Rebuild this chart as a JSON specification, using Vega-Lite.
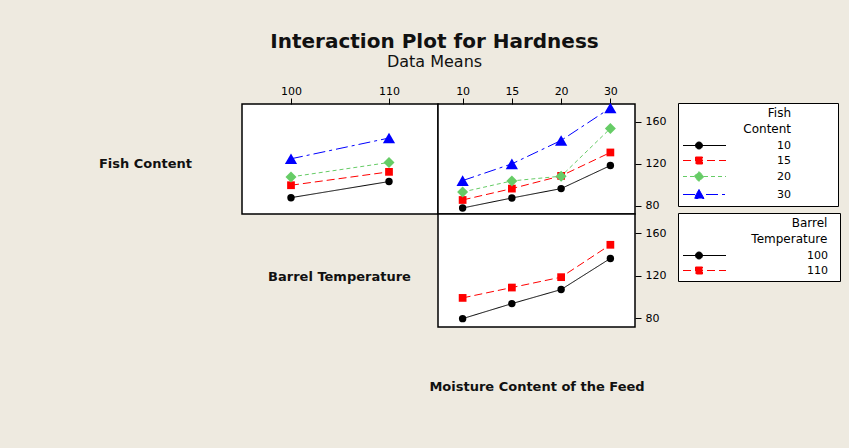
{
  "$schema": "https://vega.github.io/schema/vega-lite/v6.json",
  "background": "#EEEAE0",
  "padding": {"left": 97, "top": 32, "right": 7, "bottom": 56},
  "title": {
    "text": "Interaction Plot for Hardness",
    "subtitle": "Data Means",
    "font": "DejaVu Sans",
    "fontSize": 20,
    "fontWeight": "bold",
    "color": "#111111",
    "subtitleFont": "DejaVu Sans",
    "subtitleFontSize": 16,
    "subtitleColor": "#111111",
    "subtitlePadding": 2,
    "anchor": "middle",
    "frame": "group",
    "dx": 192.5,
    "offset": 14
  },
  "datasets": {
    "fishBarrel": [
      {"fish": "10", "barrel": "100", "hardness": 87.9},
      {"fish": "10", "barrel": "110", "hardness": 103.2},
      {"fish": "15", "barrel": "100", "hardness": 99.7},
      {"fish": "15", "barrel": "110", "hardness": 112.4},
      {"fish": "20", "barrel": "100", "hardness": 107.6},
      {"fish": "20", "barrel": "110", "hardness": 121.3},
      {"fish": "30", "barrel": "100", "hardness": 124.8},
      {"fish": "30", "barrel": "110", "hardness": 144.5}
    ],
    "fishMoist": [
      {"fish": "10", "moisture": "10", "hardness": 78.1},
      {"fish": "10", "moisture": "15", "hardness": 87.6},
      {"fish": "10", "moisture": "20", "hardness": 96.5},
      {"fish": "10", "moisture": "30", "hardness": 118.4},
      {"fish": "15", "moisture": "10", "hardness": 85.7},
      {"fish": "15", "moisture": "15", "hardness": 96.5},
      {"fish": "15", "moisture": "20", "hardness": 108.6},
      {"fish": "15", "moisture": "30", "hardness": 130.8},
      {"fish": "20", "moisture": "10", "hardness": 93.3},
      {"fish": "20", "moisture": "15", "hardness": 103.8},
      {"fish": "20", "moisture": "20", "hardness": 108.3},
      {"fish": "20", "moisture": "30", "hardness": 153.6},
      {"fish": "30", "moisture": "10", "hardness": 104.1},
      {"fish": "30", "moisture": "15", "hardness": 120.0},
      {"fish": "30", "moisture": "20", "hardness": 142.2},
      {"fish": "30", "moisture": "30", "hardness": 173.0}
    ],
    "barrelMoist": [
      {"barrel": "100", "moisture": "10", "hardness": 79.4},
      {"barrel": "100", "moisture": "15", "hardness": 93.6},
      {"barrel": "100", "moisture": "20", "hardness": 106.9},
      {"barrel": "100", "moisture": "30", "hardness": 136.3},
      {"barrel": "110", "moisture": "10", "hardness": 99.0},
      {"barrel": "110", "moisture": "15", "hardness": 108.8},
      {"barrel": "110", "moisture": "20", "hardness": 118.6},
      {"barrel": "110", "moisture": "30", "hardness": 149.2}
    ]
  },
  "config": {
    "font": "DejaVu Sans",
    "view": {"stroke": "black", "strokeWidth": 1.5, "fill": "white"},
    "axis": {
      "labelFont": "DejaVu Sans",
      "labelFontSize": 11,
      "labelColor": "black",
      "tickColor": "black",
      "tickSize": 6,
      "tickWidth": 1,
      "domain": false,
      "grid": false,
      "labelOverlap": false,
      "titleFont": "DejaVu Sans",
      "titleFontSize": 13,
      "titleFontWeight": "bold",
      "titleColor": "#111111"
    },
    "legend": {
      "labelFont": "DejaVu Sans",
      "labelFontSize": 11,
      "labelColor": "black",
      "labelAlign": "right",
      "titleFont": "DejaVu Sans",
      "titleFontSize": 12,
      "titleFontWeight": "normal",
      "titleColor": "black",
      "titleAnchor": "end",
      "titleAlign": "right",
      "titleLineHeight": 16,
      "titlePadding": 4,
      "fillColor": "white",
      "strokeColor": "black",
      "padding": 5,
      "symbolSize": 100,
      "symbolStrokeWidth": 1,
      "symbolOpacity": 1,
      "rowPadding": 3
    }
  },
  "spacing": 0,
  "bounds": "flush",
  "resolve": {
    "scale": {"x": "independent", "y": "independent", "color": "independent", "strokeDash": "independent"},
    "legend": {"color": "independent", "strokeDash": "independent"}
  },
  "hconcat": [
    {
      "width": 196,
      "height": 110,
      "data": {"name": "fishBarrel"},
      "encoding": {
        "x": {"field": "barrel", "type": "ordinal", "axis": {"orient": "top", "title": null, "labelAngle": 0, "labelPadding": 2}},
        "y": {
          "field": "hardness", "type": "quantitative",
          "scale": {"domain": [72.4, 176.8], "nice": false, "zero": false},
          "axis": {"orient": "left", "labels": false, "ticks": false, "title": "Fish Content", "titleAngle": 0, "titleAlign": "center", "titleBaseline": "middle", "titleX": -97, "titleY": 59}
        },
        "color": {"field": "fish", "type": "nominal", "scale": {"domain": ["10", "15", "20", "30"], "range": ["#000000", "#FF0000", "#66CC66", "#0000FF"]}, "legend": null}
      },
      "layer": [
        {
          "mark": {"type": "line", "strokeWidth": 1},
          "encoding": {
            "strokeDash": {"field": "fish", "type": "nominal", "scale": {"domain": ["10", "15", "20", "30"], "range": [[1, 0], [8, 4], [4, 3], [12, 4, 3, 4]]}, "legend": null}
          }
        },
        {"transform": [{"filter": "datum.fish === '10'"}], "mark": {"type": "point", "shape": "circle", "size": 55, "filled": true, "opacity": 1}},
        {"transform": [{"filter": "datum.fish === '15'"}], "mark": {"type": "point", "shape": "square", "size": 60, "filled": true, "opacity": 1}},
        {"transform": [{"filter": "datum.fish === '20'"}], "mark": {"type": "point", "shape": "diamond", "size": 120, "filled": true, "opacity": 1}},
        {"transform": [{"filter": "datum.fish === '30'"}], "mark": {"type": "point", "shape": "triangle-up", "size": 150, "filled": true, "opacity": 1}}
      ]
    },
    {
      "spacing": 0,
      "bounds": "flush",
      "resolve": {
        "scale": {"x": "independent", "y": "independent", "color": "independent", "strokeDash": "independent"},
        "legend": {"color": "independent", "strokeDash": "independent"}
      },
      "vconcat": [
        {
          "width": 197,
          "height": 110,
          "data": {"name": "fishMoist"},
          "encoding": {
            "x": {"field": "moisture", "type": "ordinal", "axis": {"orient": "top", "title": null, "labelAngle": 0, "labelPadding": 2}},
            "y": {
              "field": "hardness", "type": "quantitative",
              "scale": {"domain": [72.4, 176.8], "nice": false, "zero": false},
              "axis": {"orient": "right", "values": [80, 120, 160], "title": null, "labelPadding": 4}
            },
            "color": {
              "field": "fish", "type": "nominal",
              "scale": {"domain": ["10", "15", "20", "30"], "range": ["#000000", "#FF0000", "#66CC66", "#0000FF"]},
              "legend": {
                "title": ["Fish\u00a0\u00a0\u00a0\u00a0\u00a0\u00a0\u00a0\u00a0\u00a0\u00a0\u00a0\u200b", "Content\u00a0\u00a0\u00a0\u00a0\u00a0\u00a0\u00a0\u00a0\u00a0\u00a0\u00a0\u200b"],
                "orient": "none",
                "legendX": 240,
                "legendY": -1,
                "labelAlign": "right",
                "labelOffset": 139,
                "labelExpr": "datum.label + '\u00a0\u00a0\u00a0\u00a0\u00a0\u00a0\u00a0\u00a0\u00a0\u00a0\u00a0\u00a0\u200b'",
                "symbolType": {"expr": "datum.value === '10' ? 'M-1.1,0H7.5M1.4,0A0.7,0.7,0,1,0,2.8,0A0.7,0.7,0,1,0,1.4,0Z' : datum.value === '15' ? 'M-1.1,0H7.5M1.4,-0.7H2.8V0.7H1.4Z' : datum.value === '20' ? 'M-1.1,0H7.5M2.1,-1L3.1,0L2.1,1L1.1,0Z' : 'M-1.1,0H7.5M2.1,-1L3.1,0.8H1.1Z'"},
                "symbolFillColor": {"expr": "datum.value === '10' ? '#000000' : datum.value === '15' ? '#FF0000' : datum.value === '20' ? '#66CC66' : '#0000FF'"},
                "symbolStrokeColor": {"expr": "datum.value === '10' ? '#000000' : datum.value === '15' ? '#FF0000' : datum.value === '20' ? '#66CC66' : '#0000FF'"},
                "symbolDash": {"expr": "datum.value === '10' ? [1,0] : datum.value === '15' ? [8,4] : datum.value === '20' ? [4,3] : [12,4,3,4]"}
              }
            }
          },
          "layer": [
            {
              "mark": {"type": "line", "strokeWidth": 1},
              "encoding": {
                "strokeDash": {"field": "fish", "type": "nominal", "scale": {"domain": ["10", "15", "20", "30"], "range": [[1, 0], [8, 4], [4, 3], [12, 4, 3, 4]]}, "legend": null}
              }
            },
            {"transform": [{"filter": "datum.fish === '10'"}], "mark": {"type": "point", "shape": "circle", "size": 55, "filled": true, "opacity": 1}},
            {"transform": [{"filter": "datum.fish === '15'"}], "mark": {"type": "point", "shape": "square", "size": 60, "filled": true, "opacity": 1}},
            {"transform": [{"filter": "datum.fish === '20'"}], "mark": {"type": "point", "shape": "diamond", "size": 120, "filled": true, "opacity": 1}},
            {"transform": [{"filter": "datum.fish === '30'"}], "mark": {"type": "point", "shape": "triangle-up", "size": 150, "filled": true, "opacity": 1}}
          ]
        },
        {
          "width": 197,
          "height": 113,
          "data": {"name": "barrelMoist"},
          "encoding": {
            "x": {"field": "moisture", "type": "ordinal", "axis": {"orient": "bottom", "labels": false, "ticks": false, "title": "Moisture Content of the Feed", "titleBaseline": "middle", "titleY": 59}},
            "y": {
              "field": "hardness", "type": "quantitative",
              "scale": {"domain": [71.5, 178.3], "nice": false, "zero": false},
              "axis": {"orient": "right", "values": [80, 120, 160], "labelPadding": 4, "title": "Barrel Temperature", "titleAngle": 0, "titleAlign": "center", "titleBaseline": "middle", "titleX": -296, "titleY": 62}
            },
            "color": {
              "field": "barrel", "type": "nominal",
              "scale": {"domain": ["100", "110"], "range": ["#000000", "#FF0000"]},
              "legend": {
                "title": ["Barrel\u00a0\u00a0\u200b", "Temperature\u00a0\u00a0\u200b"],
                "orient": "none",
                "legendX": 240,
                "legendY": -1,
                "labelAlign": "right",
                "labelOffset": 141,
                "labelExpr": "datum.label + '\u00a0\u00a0\u200b'",
                "symbolType": {"expr": "datum.value === '100' ? 'M-1.1,0H7.5M1.4,0A0.7,0.7,0,1,0,2.8,0A0.7,0.7,0,1,0,1.4,0Z' : 'M-1.1,0H7.5M1.4,-0.7H2.8V0.7H1.4Z'"},
                "symbolFillColor": {"expr": "datum.value === '100' ? '#000000' : '#FF0000'"},
                "symbolStrokeColor": {"expr": "datum.value === '100' ? '#000000' : '#FF0000'"},
                "symbolDash": {"expr": "datum.value === '100' ? [1,0] : [8,4]"}
              }
            }
          },
          "layer": [
            {
              "mark": {"type": "line", "strokeWidth": 1},
              "encoding": {
                "strokeDash": {"field": "barrel", "type": "nominal", "scale": {"domain": ["100", "110"], "range": [[1, 0], [8, 4]]}, "legend": null}
              }
            },
            {"transform": [{"filter": "datum.barrel === '100'"}], "mark": {"type": "point", "shape": "circle", "size": 55, "filled": true, "opacity": 1}},
            {"transform": [{"filter": "datum.barrel === '110'"}], "mark": {"type": "point", "shape": "square", "size": 60, "filled": true, "opacity": 1}}
          ]
        }
      ]
    }
  ]
}
